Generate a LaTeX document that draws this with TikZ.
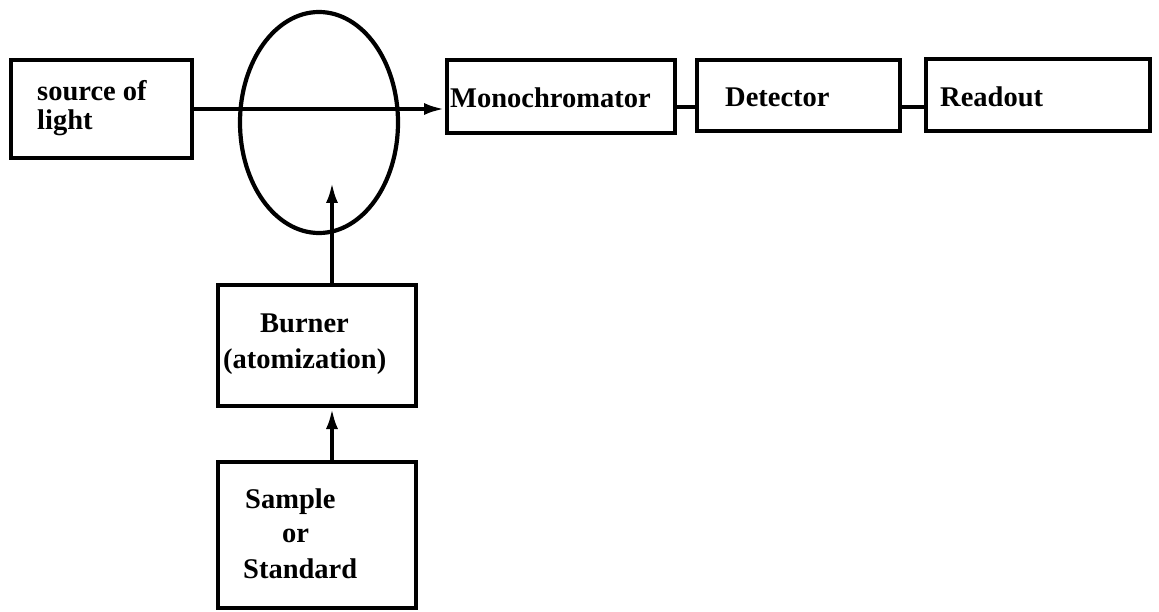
\documentclass[tikz,border=0pt]{standalone}
\usepackage{fontspec}
\setmainfont{Liberation Serif}
\usetikzlibrary{arrows.meta,shapes.geometric}
\begin{document}
\begin{tikzpicture}[x=1pt,y=-1pt,
  box/.style={draw,line width=4pt,inner sep=0pt,rectangle},
  lbl/.style={anchor=base west,inner sep=0pt,font=\fontsize{28.5}{30}\selectfont\bfseries},
  conn/.style={line width=4pt},
  arr/.style={line width=4pt,-{Latex[length=21pt,width=12pt]}}]
\useasboundingbox (0,0) rectangle (1159,612);
% boxes
\node[box,minimum width=181pt,minimum height=98pt] (src) at (101.5,109) {};
\node[box,minimum width=228pt,minimum height=73pt] (mono) at (561,96.5) {};
\node[box,minimum width=203pt,minimum height=71pt] (det) at (798.5,95.5) {};
\node[box,minimum width=224pt,minimum height=72pt] (ro) at (1038,95) {};
\node[box,minimum width=198pt,minimum height=121pt] (burner) at (317,345.5) {};
\node[box,minimum width=198pt,minimum height=146pt] (sample) at (317,535) {};
\node[draw,ellipse,line width=4.2pt,inner sep=0pt,minimum width=158pt,minimum height=221pt] (flame) at (319,122.5) {};
% labels
\node[lbl] (t1) at (37,101) {source of};
\node[lbl] (t2) at (37,130) {light};
\node[lbl] (t3) at (450,108) {Monochromator};
\node[lbl] (t4) at (725,107) {Detector};
\node[lbl] (t5) at (940,107) {Readout};
\node[lbl] (t6) at (260,332) {Burner};
\node[lbl] (t7) at (223,368) {(atomization)};
\node[lbl] (t8) at (245,508) {Sample};
\node[lbl] (t9) at (282,542) {or};
\node[lbl] (t10) at (243,578) {Standard};
% connectors
\coordinate (fl) at (332,182);
\draw[arr] (src.east) -- (src.east -| mono.west);
\draw[conn] ([yshift=-11pt]mono.east) -- ([yshift=-11pt]mono.east -| det.west);
\draw[conn] ([yshift=-12pt]det.east) -- ([yshift=-12pt]det.east -| ro.west);
\draw[arr] (burner.north -| fl) -- (fl);
\draw[arr] (sample.north -| fl) -- (burner.south -| fl);
\end{tikzpicture}
\end{document}
